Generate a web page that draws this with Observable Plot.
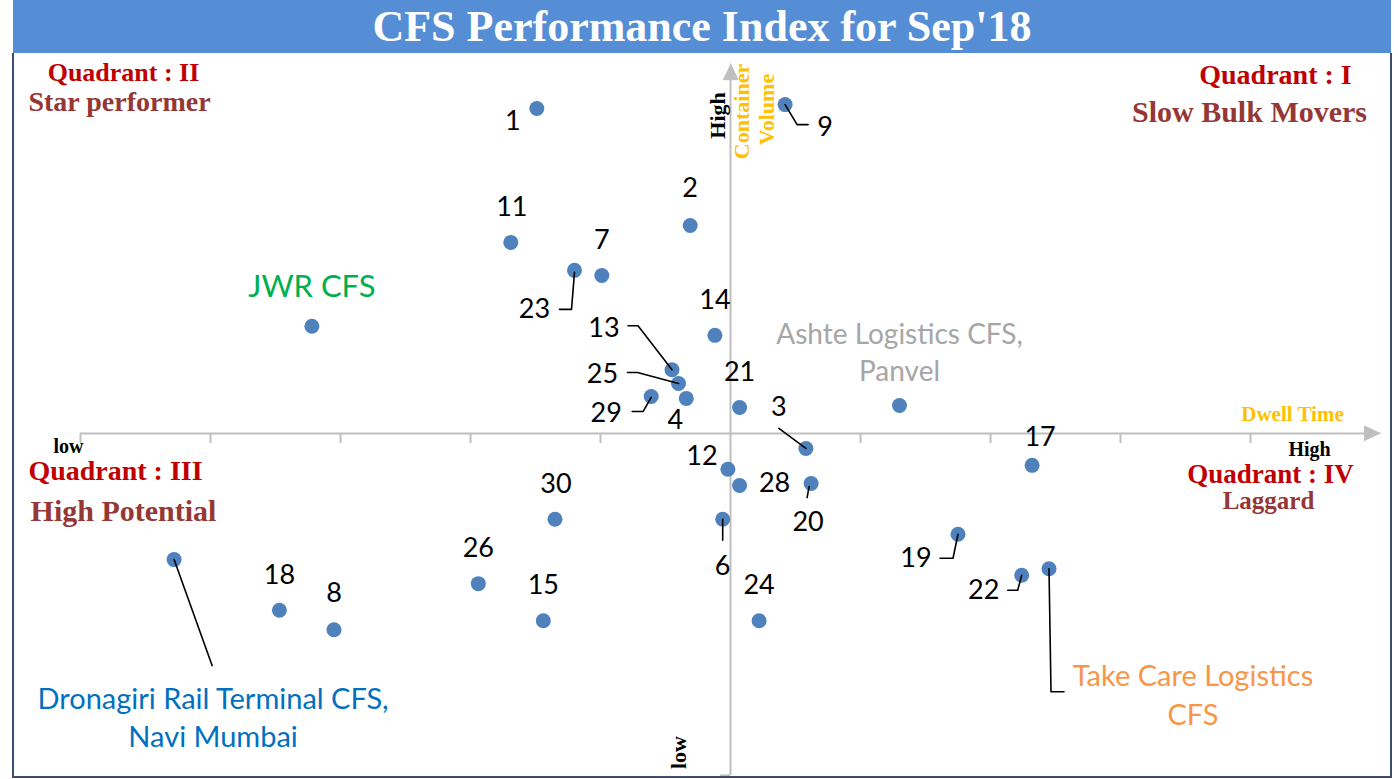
<!DOCTYPE html>
<html><head><meta charset="utf-8">
<script src="https://cdn.jsdelivr.net/npm/d3@7"></script>
<script src="https://cdn.jsdelivr.net/npm/@observablehq/plot@0.6"></script>
<style>
body{margin:0;background:#fff;}
#wrap{position:relative;width:1398px;height:779px;overflow:hidden;}
#title{position:absolute;left:13px;top:0;width:1378px;height:53px;background:#558ed5;color:#fff;font:bold 44px "Liberation Serif",serif;text-align:center;line-height:53px;}
#chart{position:absolute;left:0;top:53px;}
#border{position:absolute;left:12px;top:53px;width:1376px;height:723px;border:2px solid #3b4e6b;border-top:none;pointer-events:none;}
</style></head><body>
<div id="wrap"><div id="title">CFS Performance Index for Sep'18</div><div id="chart"></div><div id="border"></div></div>
<script>
// ---- data ----
const cfsNames = ["1","9","2","11","7","23","JWR CFS","14","13","25","4","29","21","Ashte Logistics CFS,\nPanvel","3","17","12","28","20","30","6","19","Dronagiri Rail Terminal CFS,\nNavi Mumbai","26","22","Take Care Logistics\nCFS","18","8","15","24"];
const dwellTime = [-1.49,0.42,-0.31,-1.69,-0.99,-1.20,-3.22,-0.12,-0.45,-0.40,-0.34,-0.61,0.07,1.30,0.58,2.32,-0.02,0.07,0.62,-1.35,-0.06,1.75,-4.28,-1.94,2.24,2.45,-3.47,-3.05,-1.44,0.22];
const containerVolume = [5.00,5.06,3.20,2.94,2.43,2.51,1.65,1.51,0.98,0.77,0.54,0.57,0.40,0.43,-0.23,-0.49,-0.55,-0.80,-0.77,-1.32,-1.32,-1.55,-1.94,-2.31,-2.18,-2.08,-2.72,-3.02,-2.88,-2.88];
const xTickValues = [-5,-4,-3,-2,-1,1,2,3,4];
const quadrantTexts = ["Quadrant : II","Star performer","Quadrant : I","Slow Bulk Movers","Quadrant : III","High Potential","Quadrant : IV","Laggard"];
const axisTexts = ["low","High","Dwell Time","High","Container","Volume","low"];

// ---- layout ----
const W = 1398, H = 726, mL = 80, mR = 18, mT = 55, mB = 21;
const xDom = [-5,5], yDom = [-5,5];
const xUnit = (W - mL - mR) / (xDom[1]-xDom[0]);
const yUnit = (H - mT - mB) / (yDom[1]-yDom[0]);
const yBottom = -5.26, yTip = 5.69;
const serif = "Liberation Serif", sans = "Lato";
const originShift = 380 - (mT + (H-mT-mB)/2);

const points = cfsNames.map((n,i)=>({name:n, x:dwellTime[i], y:containerVolume[i]}));

// label offsets (px from point) and styles
const labelLayout = {
  "1":[-24,13],"9":[40,23],"2":[0,-37],"11":[1,-35],"7":[0,-35],"23":[-40,39],
  "JWR CFS":[0,-39],"14":[0,-35],"13":[-68,-41],"25":[-76,-9],"4":[-11,22],"29":[-45,17],
  "21":[0,-35],"Ashte Logistics CFS,\nPanvel":[0,-55],"3":[-27,-41],"17":[8,-28],"12":[-26,-13],
  "28":[35,-2],"20":[-3,39],"30":[1,-35],"6":[0,47],"19":[-42,24],
  "Dronagiri Rail Terminal CFS,\nNavi Mumbai":[39,156],"26":[0,-35],"22":[-38,15],
  "Take Care Logistics\nCFS":[144,124],"18":[0,-35],"8":[0,-36],"15":[0,-35],"24":[0,-35]
};
const labelStyle = {
  "JWR CFS":{fill:"#00b050",size:31},
  "Ashte Logistics CFS,\nPanvel":{fill:"#a6a6a6",size:28,lh:1.32},
  "Dronagiri Rail Terminal CFS,\nNavi Mumbai":{fill:"#0070c0",size:29,lh:1.31},
  "Take Care Logistics\nCFS":{fill:"#f79646",size:29,lh:1.34}
};
const leaderLayout = {
  "9":[[0,0],[12,20],[23,20]],
  "23":[[0,2],[-3,39],[-15,39]],
  "13":[[0,0],[-34,-44],[-44,-44]],
  "25":[[0,0],[-41,-11],[-51,-11]],
  "29":[[0,1],[-8,15],[-19,15]],
  "3":[[0,0],[-27,-20]],
  "20":[[-2,3],[-4,14]],
  "6":[[0,0],[0,21]],
  "19":[[0,0],[-5,24],[-18,24]],
  "22":[[0,0],[-4,15],[-14,15]],
  "Take Care Logistics\nCFS":[[0,0],[2,123],[15,123]],
  "Dronagiri Rail Terminal CFS,\nNavi Mumbai":[[0,0],[38,106]]
};
const leaderRows = points.flatMap(p => (leaderLayout[p.name]||[]).map(([ox,oy]) => ({name:p.name, x:p.x+ox/xUnit, y:p.y-oy/yUnit})));

// annotations: offsets (px) from axis origin
const quadLayout = [
  {dx:-607,dy:-361,fill:"#c00000",size:26},{dx:-611,dy:-331,fill:"#953735",size:28},
  {dx:545,dy:-358,fill:"#c00000",size:28},{dx:519,dy:-321,fill:"#953735",size:30},
  {dx:-615,dy:38,fill:"#c00000",size:28},{dx:-607,dy:78,fill:"#953735",size:30},
  {dx:540,dy:41,fill:"#c00000",size:27},{dx:538,dy:67,fill:"#953735",size:25}
];
const axisLayout = [
  {dx:-662,dy:13,fill:"#000",rotate:0,size:20},{dx:579,dy:16,fill:"#000",rotate:0,size:20},
  {dx:562,dy:-19,fill:"#ffc000",rotate:0,size:21},{dx:-13,dy:-318,fill:"#000",rotate:-90,size:22},
  {dx:11,dy:-322,fill:"#ffc000",rotate:-90,size:22},{dx:36,dy:-324,fill:"#ffc000",rotate:-90,size:22},
  {dx:-52,dy:319,fill:"#000",rotate:-90,size:22}
];

const axisColor = "#bfbfbf";
const headL = 16, headW = 7.5;
const xHead = [{x:xDom[1],y:0},{x:xDom[1]-headL/xUnit,y:headW/yUnit},{x:xDom[1]-headL/xUnit,y:-headW/yUnit}];
const yHead = [{x:0,y:yTip},{x:headW/xUnit,y:yTip-headL/yUnit},{x:-headW/xUnit,y:yTip-headL/yUnit}];

const marks = [
  Plot.ruleY([0], {x1: () => xDom[0], x2: () => xDom[1]-headL/xUnit, stroke: axisColor, strokeWidth: 2}),
  Plot.ruleX(xTickValues, {x: d => d, y1: () => 0, y2: () => -10/yUnit, stroke: axisColor, strokeWidth: 2}),
  Plot.line(xHead, {x:"x", y:"y", fill: axisColor, stroke: axisColor, strokeWidth: 1}),
  Plot.ruleX([0], {y1: () => yBottom, y2: () => yTip-headL/yUnit, stroke: axisColor, strokeWidth: 2}),
  Plot.ruleY([yBottom], {x1: () => 0, x2: () => -10/xUnit, stroke: axisColor, strokeWidth: 2}),
  Plot.line(yHead, {x:"x", y:"y", fill: axisColor, stroke: axisColor, strokeWidth: 1}),
  Plot.dot(points, {x:"x", y:"y", r:7.5, fill:"#4f81bd"}),
  Plot.line(leaderRows, {x:"x", y:"y", z:"name", stroke:"#000", strokeWidth:1.6}),
  ...points.map(p => {
    const [dx,dy] = labelLayout[p.name];
    const s = labelStyle[p.name] || {fill:"#000", size:27};
    return Plot.text([p], {x:"x", y:"y", text:"name", dx, dy, fill:s.fill, fontSize:s.size, fontFamily:sans, lineHeight:s.lh||1});
  }),
  ...quadrantTexts.map((t,i) => Plot.text([t], {frameAnchor:"middle", text:d=>d, dx:quadLayout[i].dx, dy:quadLayout[i].dy + originShift, fill:quadLayout[i].fill, fontSize:quadLayout[i].size, fontWeight:"bold", fontFamily:serif})),
  ...axisTexts.map((t,i) => Plot.text([t], {frameAnchor:"middle", text:d=>d, dx:axisLayout[i].dx, dy:axisLayout[i].dy + originShift, rotate:axisLayout[i].rotate, fill:axisLayout[i].fill, fontSize:axisLayout[i].size, fontWeight:"bold", fontFamily:serif}))
];

const chart = Plot.plot({
  width: W, height: H,
  marginLeft: mL, marginRight: mR, marginTop: mT, marginBottom: mB,
  x: {domain: xDom, axis: null},
  y: {domain: yDom, axis: null},
  style: {background: "transparent", overflow: "visible"},
  marks
});
document.getElementById("chart").appendChild(chart);
</script>
</body></html>
